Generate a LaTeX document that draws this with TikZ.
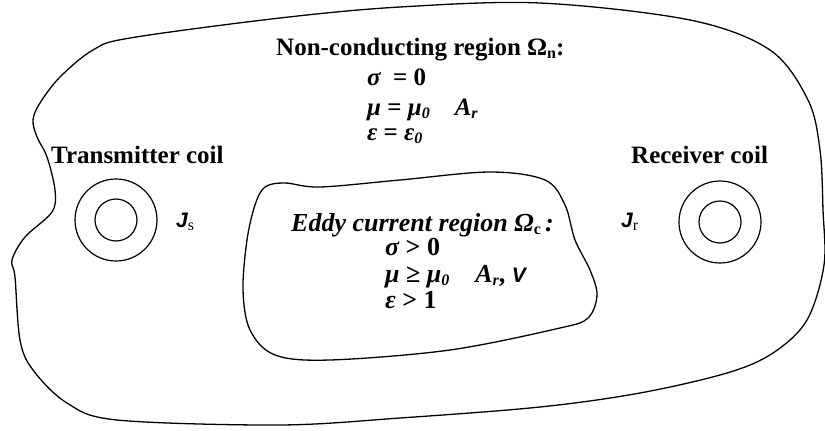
\documentclass[tikz,border=0pt]{standalone}
\usepackage{fontspec}
\setmainfont{Liberation Serif}
\newfontfamily\sansf{Liberation Sans}
\newcommand{\lowsub}[1]{\raisebox{-0.3ex}{\fontsize{16}{16}\selectfont #1}}
\newcommand{\sfsym}[1]{{\sansf\itshape\fontsize{21}{21}\selectfont #1}}
\begin{document}
\begin{tikzpicture}[x=1pt,y=-1pt,
  lbl/.style={inner sep=0pt, anchor=base west, font=\fontsize{25}{28}\selectfont\bfseries},
  elbl/.style={lbl, font=\fontsize{26}{28}\selectfont\bfseries},
  coil/.style={circle, draw, line width=1.2pt, inner sep=0pt},
  blob/.style={draw, line width=1.3pt}]
\useasboundingbox (0,0) rectangle (825,431);
% outer region
\draw[blob] plot[smooth cycle, tension=0.55] coordinates {
 (33,120) (40,103) (60,77) (93,50) (130,38) (280,18) (400,7) (540,3) (690,20) (770,50) (808,100)
 (820,150) (823,210) (824,265) (807,320) (773,353) (727,373) (640,393) (540,407) (400,418)
 (280,425) (117,420) (67,403) (33,370) (20,340) (15,277) (12,260) (25,237) (52,212) (55,190) (47,157) (37,137)};
% eddy current region
\draw[blob] plot[smooth cycle, tension=0.55] coordinates {
 (265,187) (285,183) (320,187) (400,180) (490,172) (545,180) (565,205) (575,240) (590,270) (597,295)
 (588,318) (560,328) (450,350) (330,360) (275,355) (250,330) (243,290) (247,240) (255,205)};
% coils
\node[coil, minimum size=82pt] (tco) at (116,220) {};
\node[coil, minimum size=42pt] (tci) at (116,220) {};
\node[coil, minimum size=82pt] (rco) at (720,222) {};
\node[coil, minimum size=42pt] (rci) at (720,222) {};
% texts
\node[lbl] (nc) at (276,55) {Non-conducting region Ω\lowsub{n}:};
\node[lbl] (s1) at (367,85) {\itshape σ\ \ \upshape= 0};
\node[lbl] (m1) at (367,115) {\itshape μ \upshape= \itshape μ\lowsub{0}\quad A\lowsub{r}};
\node[lbl] (e1) at (367,140) {\itshape ε \upshape= \itshape ε\lowsub{0}};
\node[elbl] (ec) at (291,231) {\itshape Eddy current region Ω\lowsub{\upshape c}\,:};
\node[elbl] (s2) at (385,255) {\itshape σ \upshape> 0};
\node[elbl] (m2) at (385,282) {\itshape μ \upshape≥ \itshape μ\lowsub{0}\quad A\lowsub{r}\upshape, \sfsym{V}};
\node[elbl] (e2) at (385,308) {\itshape ε \upshape> 1};
\node[lbl] (tc) at (51,163) {Transmitter coil};
\node[lbl] (rc) at (631,163) {Receiver coil};
\node[lbl] (js) at (176,227) {\sfsym{J}\lowsub{\mdseries s}};
\node[lbl] (jr) at (621,227) {\sfsym{J}\lowsub{\mdseries r}};
\end{tikzpicture}
\end{document}
